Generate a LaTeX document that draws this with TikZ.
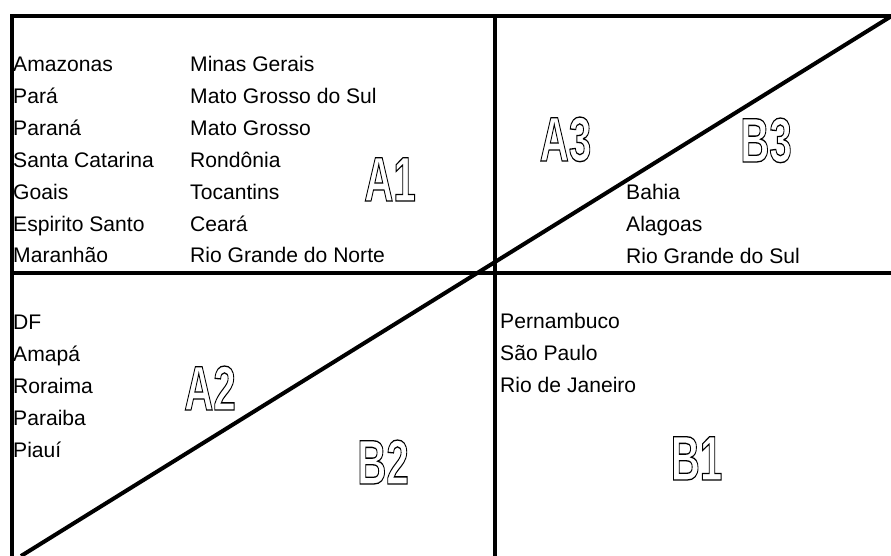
\documentclass[tikz,border=0pt]{standalone}
\usepackage{fontspec}
\setmainfont{Liberation Sans}
\newfontfamily\bigfont{Liberation Sans Bold}
\newcommand{\hollow}[1]{\scalebox{0.64}[1]{\special{pdf:literal direct 1 Tr 1.3 w}#1\special{pdf:literal direct 0 Tr}}}
\begin{document}
\begin{tikzpicture}[x=1pt,y=-1pt,
  lbl/.style={anchor=base west,inner sep=0pt,font=\fontsize{21.1}{24}\selectfont},
  big/.style={anchor=base,inner sep=0pt,font=\bigfont\fontsize{63}{70}\selectfont},
  rule/.style={line width=4pt}]
\useasboundingbox (0,0) rectangle (891,556);
% frame and dividers
\coordinate (tl) at (11.5,15.7);
\coordinate (tr) at (891,15.7);
\coordinate (bl) at (11.5,556);
\coordinate (ml) at (11.5,273);
\coordinate (mr) at (891,273);
\coordinate (vt) at (494.5,15.7);
\coordinate (vb) at (494.5,556);
\coordinate (d1) at (21,556);
\coordinate (d2) at (890,17);
\draw[rule] (tr) -- (tl) -- (bl);
\draw[rule] (ml) -- (mr);
\draw[rule] (vt) -- (vb);
\draw[rule] (d1) -- (d2);
% column 1
\node[lbl] (t1) at (13,72) {Amazonas};
\node[lbl] (t2) at (13,103.8) {Pará};
\node[lbl] (t3) at (13,135.6) {Paraná};
\node[lbl] (t4) at (13,167.4) {Santa Catarina};
\node[lbl] (t5) at (13,199.2) {Goais};
\node[lbl] (t6) at (13,231) {Espirito Santo};
\node[lbl] (t7) at (13,262.8) {Maranhão};
% column 2
\node[lbl] (u1) at (190,72) {Minas Gerais};
\node[lbl] (u2) at (190,103.8) {Mato Grosso do Sul};
\node[lbl] (u3) at (190,135.6) {Mato Grosso};
\node[lbl] (u4) at (190,167.4) {Rondônia};
\node[lbl] (u5) at (190,199.2) {Tocantins};
\node[lbl] (u6) at (190,231) {Ceará};
\node[lbl] (u7) at (190,262.8) {Rio Grande do Norte};
% top right
\node[lbl] (r1) at (626,200) {Bahia};
\node[lbl] (r2) at (626,231.5) {Alagoas};
\node[lbl] (r3) at (626,263) {Rio Grande do Sul};
% bottom left
\node[lbl] (p1) at (13,329) {DF};
\node[lbl] (p2) at (13,361) {Amapá};
\node[lbl] (p3) at (13,393) {Roraima};
\node[lbl] (p4) at (13,425) {Paraiba};
\node[lbl] (p5) at (13,457) {Piauí};
% bottom right
\node[lbl] (q1) at (500,328) {Pernambuco};
\node[lbl] (q2) at (500,360) {São Paulo};
\node[lbl] (q3) at (500,392) {Rio de Janeiro};
% big labels
\node[big] (A1) at (390,201) {\hollow{A1}};
\node[big] (A3) at (565.5,161) {\hollow{A3}};
\node[big] (B3) at (766,162) {\hollow{B3}};
\node[big] (A2) at (210,410) {\hollow{A2}};
\node[big] (B2) at (383,484) {\hollow{B2}};
\node[big] (B1) at (696.5,480) {\hollow{B1}};
\end{tikzpicture}
\end{document}
